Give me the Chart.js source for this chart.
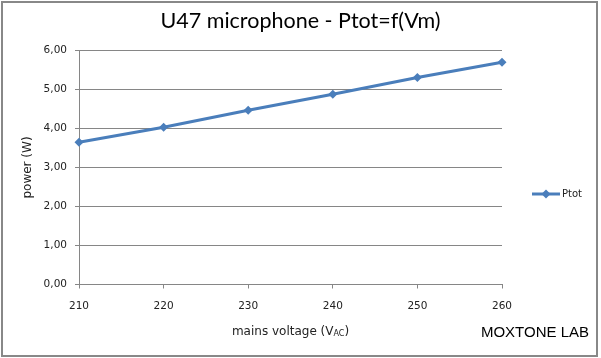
<!DOCTYPE html>
<html>
<head>
<meta charset="utf-8">
<script src="https://cdn.jsdelivr.net/npm/chart.js@4"></script>
<style>
  html, body { margin: 0; padding: 0; background: #fff; }
  #wrap { width: 601px; height: 358px; position: relative; }
</style>
</head>
<body>
<div id="wrap"><canvas id="c" width="601" height="358"></canvas></div>
<script>
const voltages = [210, 220, 230, 240, 250, 260];
const ptot = [3.65, 4.03, 4.47, 4.88, 5.31, 5.70];
const seriesName = 'Ptot';
const chartTitle = 'U47 microphone - Ptot=f(Vm)';
const yTitle = 'power (W)';
const xTitleMain = 'mains voltage (V';
const xTitleSub = 'AC';
const xTitleEnd = ')';
const brand = 'MOXTONE LAB';

const lineColor = '#4A7EBB';
const gridColor = '#868686';
const tickFont = { family: 'DejaVu Sans', size: 10.5 };

const extras = {
  id: 'extras',
  afterDraw(chart) {
    const ctx = chart.ctx;
    const a = chart.chartArea;
    ctx.save();
    // border
    ctx.strokeStyle = '#888888';
    ctx.lineWidth = 2;
    ctx.strokeRect(2, 2, 595, 354);
    // x axis title with subscript
    ctx.fillStyle = '#222';
    ctx.textBaseline = 'middle';
    ctx.textAlign = 'left';
    const mainF = '12px "DejaVu Sans"';
    const subF = '8px "DejaVu Sans"';
    ctx.font = mainF;
    const w1 = ctx.measureText(xTitleMain).width;
    const w3 = ctx.measureText(xTitleEnd).width;
    ctx.font = subF;
    const w2 = ctx.measureText(xTitleSub).width;
    const total = w1 + w2 + w3;
    let x = (a.left + a.right) / 2 - total / 2;
    const y = 332;
    ctx.font = mainF;
    ctx.fillText(xTitleMain, x, y);
    x += w1;
    ctx.font = subF;
    ctx.fillText(xTitleSub, x, y + 2);
    x += w2;
    ctx.font = mainF;
    ctx.fillText(xTitleEnd, x, y);
    // brand
    ctx.fillStyle = '#000';
    ctx.font = '15px "Liberation Sans"';
    ctx.textAlign = 'right';
    ctx.fillText(brand, 589, 333);
    // legend
    const ly = 194;
    const lx0 = a.right + 30;
    ctx.strokeStyle = lineColor;
    ctx.lineWidth = 3;
    ctx.beginPath();
    ctx.moveTo(lx0, ly);
    ctx.lineTo(lx0 + 28, ly);
    ctx.stroke();
    ctx.fillStyle = lineColor;
    ctx.beginPath();
    const mx = lx0 + 14, r = 4.5;
    ctx.moveTo(mx, ly - r); ctx.lineTo(mx + r, ly); ctx.lineTo(mx, ly + r); ctx.lineTo(mx - r, ly);
    ctx.closePath(); ctx.fill();
    ctx.fillStyle = '#222';
    ctx.font = '10px "DejaVu Sans"';
    ctx.textAlign = 'left';
    ctx.fillText(seriesName, lx0 + 30, ly);
    ctx.restore();
  }
};

new Chart(document.getElementById('c'), {
  type: 'line',
  data: {
    datasets: [{
      label: seriesName,
      data: voltages.map((v, i) => ({ x: v, y: ptot[i] })),
      borderColor: lineColor,
      backgroundColor: lineColor,
      borderWidth: 3,
      pointStyle: 'rectRot',
      pointRadius: 4.5,
      pointHoverRadius: 4.5,
      pointBorderWidth: 0,
      tension: 0,
      clip: false
    }]
  },
  options: {
    responsive: false,
    animation: false,
    events: [],
    layout: { padding: 0 },
    plugins: {
      legend: { display: false },
      tooltip: { enabled: false },
      title: {
        display: true,
        text: chartTitle,
        color: '#000',
        font: { family: 'Lato', size: 21.5, weight: 'normal' },
        padding: { top: 8, bottom: 16.7 }
      }
    },
    scales: {
      x: {
        type: 'linear',
        min: 210, max: 260,
        afterFit(s) { s.height = 73.5; },
        ticks: { stepSize: 10, font: tickFont, color: '#222', padding: 11.5, maxRotation: 0 },
        grid: { drawOnChartArea: false, drawTicks: true, tickLength: 4, color: gridColor },
        border: { color: gridColor, width: 1 }
      },
      y: {
        min: 0, max: 6,
        afterFit(s) { s.width = 79; },
        ticks: {
          stepSize: 1, font: tickFont, color: '#222', padding: 8,
          callback: v => v.toFixed(2).replace('.', ',')
        },
        grid: { color: gridColor, tickLength: 4, drawTicks: true },
        border: { color: gridColor, width: 1 },
        title: {
          display: true, text: yTitle, color: '#222',
          font: { family: 'DejaVu Sans', size: 12 },
          padding: { top: 21, bottom: 0 }
        }
      },
      yRightSpace: {
        position: 'right',
        min: 0, max: 1,
        afterFit(s) { s.width = 99; },
        ticks: { display: false },
        grid: { display: false, drawOnChartArea: false },
        border: { display: false }
      }
    }
  },
  plugins: [extras]
});
</script>
</body>
</html>
